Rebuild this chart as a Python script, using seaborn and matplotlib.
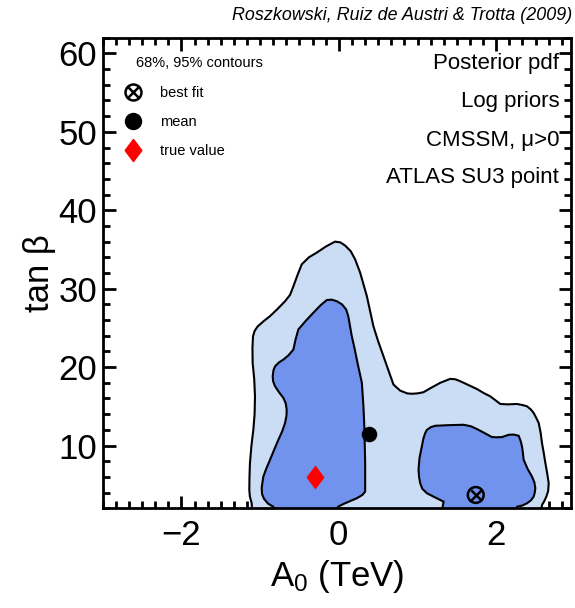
import numpy as np
import matplotlib
matplotlib.use('Agg')
import matplotlib.pyplot as plt
from matplotlib.lines import Line2D
from matplotlib.legend_handler import HandlerTuple
from matplotlib.ticker import MultipleLocator
import seaborn as sns

# --- dados (A0 em TeV, tan beta) ---
# contorno 95% (externo)
outer_x = [-1.10, -1.107, -1.13, -1.137, -1.135, -1.129, -1.11, -1.086, -1.07, -1.065,
           -1.075, -1.095, -1.097, -1.09, -1.07, -1.03, -0.95, -0.874, -0.78, -0.683,
           -0.62, -0.577, -0.53, -0.471, -0.38, -0.28, -0.16, -0.047, 0.02, 0.08,
           0.15, 0.207, 0.271, 0.356, 0.44, 0.50, 0.567, 0.63, 0.695, 0.78,
           0.87, 0.929, 1.0, 1.076, 1.18, 1.289, 1.416, 1.48, 1.543, 1.65,
           1.756, 1.84, 1.925, 2.052, 2.15, 2.265, 2.34, 2.392, 2.44, 2.476,
           2.51, 2.540, 2.565, 2.582, 2.605, 2.625, 2.647, 2.667, 2.66, 2.637,
           2.61, 2.582, 2.56]
outer_y = [1.0, 2.64, 3.5, 4.34, 6.0, 7.75, 10.0, 12.0, 14.0, 16.27,
           18.5, 20.54, 22.5, 23.94, 24.6, 25.2, 25.9, 26.5, 27.4, 28.4,
           29.2, 30.3, 31.6, 33.1, 34.0, 34.6, 35.4, 36.0, 35.9, 35.5,
           34.8, 33.75, 32.05, 29.06, 25.2, 23.3, 21.4, 19.6, 17.77, 17.0,
           16.65, 16.6, 16.65, 16.8, 17.4, 18.0, 18.5, 18.45, 18.2, 17.7,
           17.2, 16.7, 16.27, 15.3, 15.25, 15.3, 15.15, 15.0, 14.6, 14.15,
           13.5, 12.87, 11.6, 10.3, 9.0, 7.75, 6.5, 5.2, 4.2, 3.48,
           2.9, 2.42, 1.0]

# contorno 68% (esquerda)
inner1_x = [-0.85, -0.832, -0.90, -0.95, -0.975, -0.980, -0.97, -0.959, -0.92, -0.874,
            -0.82, -0.768, -0.72, -0.683, -0.665, -0.662, -0.675, -0.704, -0.76, -0.810,
            -0.835, -0.840, -0.83, -0.810, -0.76, -0.704, -0.64, -0.577, -0.55, -0.514,
            -0.42, -0.323, -0.23, -0.153, -0.09, -0.025, 0.04, 0.093, 0.12, 0.135,
            0.165, 0.20, 0.229, 0.26, 0.293, 0.313, 0.326, 0.33, 0.335, 0.335,
            0.30, 0.229, 0.14, 0.059, -0.01, -0.05]
inner1_y = [1.0, 2.2, 2.6, 3.2, 3.8, 4.6, 5.3, 6.04, 7.1, 8.18,
            9.5, 10.73, 11.8, 12.87, 13.8, 14.57, 15.4, 16.07, 16.8, 17.55,
            18.2, 18.83, 19.6, 20.1, 20.6, 20.96, 21.5, 22.24, 23.5, 24.8,
            25.9, 26.94, 27.9, 28.55, 28.6, 28.4, 28.0, 27.36, 26.5, 25.66,
            23.94, 22.4, 20.96, 19.5, 18.0, 15.0, 12.0, 10.0, 7.75, 4.13,
            3.7, 3.28, 2.9, 2.55, 2.2, 1.0]

# contorno 68% (direita)
inner2_x = [1.30, 1.331, 1.22, 1.119, 1.06, 1.034, 1.02, 1.013, 1.025, 1.055,
            1.075, 1.098, 1.119, 1.17, 1.225, 1.40, 1.585, 1.68, 1.756, 1.85,
            1.946, 2.01, 2.074, 2.158, 2.22, 2.285, 2.31, 2.328, 2.34, 2.349,
            2.40, 2.455, 2.485, 2.497, 2.49, 2.476, 2.44, 2.392, 2.33, 2.265, 2.24]
inner2_y = [1.0, 2.85, 3.4, 3.92, 4.5, 5.2, 6.0, 6.9, 8.4, 9.88,
            10.9, 11.6, 12.0, 12.35, 12.52, 12.6, 12.65, 12.45, 12.1, 11.6,
            11.08, 11.05, 11.08, 11.37, 11.4, 11.25, 10.6, 9.88, 9.0, 8.18,
            7.0, 6.04, 5.3, 4.56, 4.0, 3.48, 3.0, 2.64, 2.35, 2.2, 1.0]

# pontos
best_fit = {'A0': [1.74], 'tanb': [3.7]}
mean_pt = {'A0': [0.39], 'tanb': [11.5]}
true_pt = {'A0': [-0.30], 'tanb': [6.0]}

LIGHT = '#CBDDF5'
DARK = '#7193EE'

sns.set_style('ticks')
plt.rcParams['font.family'] = ['Liberation Sans', 'DejaVu Sans']
plt.rcParams['mathtext.fontset'] = 'custom'
plt.rcParams['mathtext.rm'] = 'Liberation Sans'
plt.rcParams['mathtext.it'] = 'Liberation Sans:italic'
plt.rcParams['text.color'] = 'black'
plt.rcParams['axes.labelcolor'] = 'black'
plt.rcParams['xtick.color'] = 'black'
plt.rcParams['ytick.color'] = 'black'

fig = plt.figure(figsize=(5.75, 6.08), dpi=100)
ax = fig.add_axes([0.1786, 0.1640, 0.8144, 0.7740])

ax.fill(outer_x, outer_y, facecolor=LIGHT, edgecolor='black', linewidth=1.5, zorder=1)
ax.fill(inner1_x, inner1_y, facecolor=DARK, edgecolor='black', linewidth=1.5, zorder=2)
ax.fill(inner2_x, inner2_y, facecolor=DARK, edgecolor='black', linewidth=1.5, zorder=2)

sns.scatterplot(x=mean_pt['A0'], y=mean_pt['tanb'], marker='o', s=125, color='black',
                edgecolor='black', linewidth=0, ax=ax, zorder=5)
ax.scatter(best_fit['A0'], best_fit['tanb'], marker='o', s=130, facecolors='none',
           edgecolors='black', linewidths=1.8, zorder=5)
ax.scatter(best_fit['A0'], best_fit['tanb'], marker='x', s=55, color='black',
           linewidths=1.8, zorder=5)
diamond = [(0, 1), (0.75, 0), (0, -1), (-0.75, 0), (0, 1)]
sns.scatterplot(x=true_pt['A0'], y=true_pt['tanb'], marker=diamond, s=300, color='red',
                edgecolor='red', linewidth=0, ax=ax, zorder=5)

ax.set_xlim(-3, 2.95)
ax.set_ylim(2, 62)
ax.xaxis.set_major_locator(MultipleLocator(2))
ax.xaxis.set_minor_locator(MultipleLocator(1 / 6))
ax.yaxis.set_major_locator(MultipleLocator(10))
ax.yaxis.set_minor_locator(MultipleLocator(2))
ax.tick_params(which='both', direction='in', top=True, right=True, width=2, colors='black')
ax.tick_params(which='major', length=9, labelsize=25)
ax.tick_params(which='minor', length=5)
ax.tick_params(axis='x', which='major', pad=8)
ax.tick_params(axis='y', which='major', pad=4)
ax.set_xticks([-2, 0, 2])
ax.set_xticklabels(['\u22122', '0', '2'])
for sp in ax.spines.values():
    sp.set_linewidth(2)
    sp.set_color('black')

ax.set_xlabel(r'$\mathrm{A_0}$ (TeV)', fontsize=25, labelpad=4)
ax.set_ylabel('tan \u03b2', fontsize=25, labelpad=2)

fig.text(0.995, 0.975, 'Roszkowski, Ruiz de Austri & Trotta (2009)', ha='right', va='center',
         fontsize=12.9, style='italic')

# textos da direita
right_texts = ['Posterior pdf', 'Log priors', 'CMSSM, \u03bc>0', 'ATLAS SU3 point']
right_y = [0.933, 0.852, 0.770, 0.692]
for t, yy in zip(right_texts, right_y):
    ax.text(0.975, yy, t, transform=ax.transAxes, ha='right', va='baseline', fontsize=16)

# legenda
ax.text(0.071, 0.938, '68%, 95% contours', transform=ax.transAxes, ha='left',
        va='baseline', fontsize=10.5)
h_best = (Line2D([], [], ls='none', marker='o', ms=11.5, mfc='none', mec='black', mew=1.8),
          Line2D([], [], ls='none', marker='x', ms=7.5, color='black', mew=1.8))
h_mean = Line2D([], [], ls='none', marker='o', ms=11.5, color='black')
h_true = Line2D([], [], ls='none', marker=diamond, ms=16, color='red')
ax.legend([h_best, h_mean, h_true], ['best fit', 'mean', 'true value'],
          handler_map={tuple: HandlerTuple(ndivide=1)},
          loc='upper left', bbox_to_anchor=(0.0425, 0.898), frameon=False, fontsize=10.5,
          handlelength=1.4, handletextpad=1.15, labelspacing=1.03, borderpad=0, borderaxespad=0)

fig.savefig('out.png', dpi=100)
